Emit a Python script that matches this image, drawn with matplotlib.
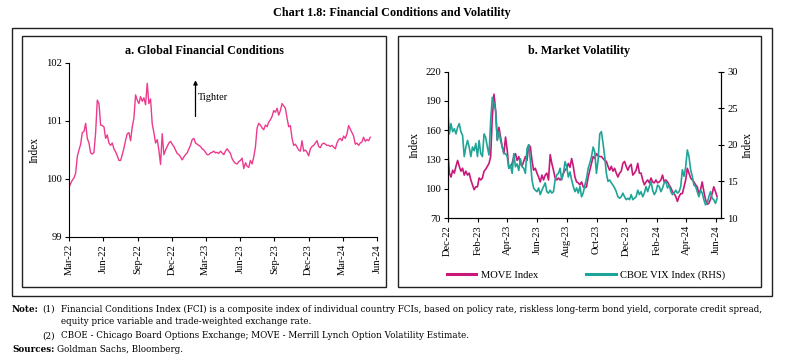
import matplotlib
matplotlib.use("Agg")
import matplotlib.pyplot as plt
import matplotlib.dates as mdates
from matplotlib.patches import Rectangle
import numpy as np
import pandas as pd

plt.rcParams['font.family'] = ['Liberation Serif', 'DejaVu Serif']

# ---- data: panel a (Global FCI), roughly every 4-5 days, Mar-22 to mid-May-24
fci = [99.86, 99.92, 99.98, 100.02, 100.10, 100.39, 100.50, 100.60, 100.80, 100.82,
       100.96, 100.70, 100.62, 100.45, 100.43, 100.46, 100.80, 101.36, 101.30, 100.93,
       100.92, 100.90, 100.70, 100.76, 100.62, 100.58, 100.62, 100.52, 100.47, 100.40,
       100.32, 100.32, 100.42, 100.53, 100.67, 100.78, 100.80, 100.66, 100.90, 101.05,
       101.45, 101.36, 101.30, 101.42, 101.34, 101.40, 101.28, 101.65, 101.30, 101.38,
       100.95, 100.80, 100.62, 100.68, 100.50, 100.25, 100.78, 100.42, 100.50, 100.56,
       100.62, 100.65, 100.60, 100.56, 100.50, 100.44, 100.42, 100.38, 100.33, 100.38,
       100.42, 100.45, 100.52, 100.58, 100.68, 100.70, 100.62, 100.60, 100.58, 100.56,
       100.52, 100.50, 100.46, 100.42, 100.42, 100.45, 100.46, 100.48, 100.45, 100.46,
       100.44, 100.48, 100.45, 100.42, 100.48, 100.52, 100.48, 100.44, 100.35, 100.30,
       100.27, 100.26, 100.30, 100.32, 100.36, 100.18, 100.28, 100.22, 100.20, 100.32,
       100.26, 100.38, 100.55, 100.88, 100.96, 100.93, 100.88, 100.85, 100.93, 100.90,
       100.98, 101.02, 101.08, 101.18, 101.15, 101.22, 101.10, 101.18, 101.30, 101.26,
       101.22, 101.05, 100.90, 100.92, 100.70, 100.58, 100.60, 100.55, 100.50, 100.48,
       100.66, 100.48, 100.50, 100.46, 100.40, 100.52, 100.56, 100.58, 100.62, 100.66,
       100.56, 100.54, 100.60, 100.62, 100.60, 100.58, 100.58, 100.56, 100.58, 100.55,
       100.52, 100.62, 100.68, 100.70, 100.66, 100.74, 100.70, 100.78, 100.92, 100.86,
       100.80, 100.74, 100.60, 100.62, 100.58, 100.62, 100.64, 100.72, 100.65, 100.68,
       100.66, 100.72]
fci_dates = pd.date_range('2022-03-01', '2024-05-14', periods=len(fci))

# ---- data: panel b (MOVE and VIX), roughly every 3-4 days, Dec-22 to Jun-24
move = [141, 116, 112, 119, 116, 123, 129, 123, 118, 121, 114, 118, 114, 116, 109,
        104, 99, 102, 102, 111, 109, 111, 118, 120, 123, 126, 133, 174, 197, 180,
        150, 163, 153, 143, 136, 153, 140, 121, 123, 126, 133, 136, 129, 133, 126,
        123, 128, 133, 129, 145, 143, 129, 119, 121, 116, 112, 107, 114, 109, 114,
        116, 109, 135, 126, 119, 111, 109, 111, 109, 111, 116, 119, 121, 126, 122,
        131, 123, 112, 107, 106, 104, 107, 102, 101, 102, 112, 119, 126, 133, 131,
        136, 134, 133, 133, 131, 129, 128, 123, 119, 123, 118, 121, 116, 112, 116,
        118, 126, 128, 123, 119, 123, 125, 114, 116, 119, 126, 116, 116, 109, 104,
        107, 109, 106, 111, 107, 106, 109, 106, 107, 109, 114, 107, 109, 107, 104,
        101, 97, 95, 92, 87, 92, 95, 95, 102, 109, 121, 116, 111, 109, 107, 104,
        102, 95, 99, 107, 97, 89, 84, 85, 89, 95, 102, 97, 92]
vix = [24.9, 21.5, 22.9, 21.8, 22.2, 21.5, 22.4, 22.9, 21.8, 21.3, 18.4, 19.7, 20.6,
       19.7, 18.4, 19.7, 19.2, 20.2, 18.4, 20.6, 18.8, 18.4, 21.5, 21.0, 19.7, 18.6,
       23.3, 26.5, 25.6, 24.7, 20.6, 21.8, 20.6, 19.7, 18.8, 18.8, 18.4, 16.8, 17.2,
       16.1, 18.8, 17.0, 17.4, 16.5, 18.1, 17.0, 16.8, 16.1, 19.5, 20.0, 17.9, 15.2,
       14.1, 13.8, 13.6, 14.1, 13.2, 13.8, 14.3, 14.8, 13.6, 13.4, 13.8, 13.4, 13.6,
       15.2, 15.9, 16.1, 16.8, 15.2, 16.1, 17.7, 17.0, 15.6, 16.3, 15.2, 14.3, 13.6,
       14.1, 13.4, 14.3, 12.9, 13.4, 14.5, 15.4, 16.8, 17.5, 18.4, 19.7, 19.0, 16.1,
       17.9, 21.5, 21.8, 20.2, 18.4, 16.1, 15.0, 15.2, 14.8, 14.5, 14.1, 13.6, 12.9,
       12.7, 12.9, 13.4, 12.9, 12.5, 12.7, 12.5, 13.2, 12.5, 12.7, 12.9, 13.8, 13.2,
       13.6, 12.9, 13.4, 14.3, 13.6, 14.3, 15.0, 13.8, 13.2, 13.6, 14.5, 14.3, 13.6,
       14.1, 14.8, 15.0, 14.1, 14.5, 13.6, 13.2, 13.4, 13.8, 13.4, 13.6, 14.3, 16.6,
       15.7, 17.0, 19.3, 18.4, 16.6, 15.7, 14.5, 14.3, 13.6, 12.9, 13.8, 13.4, 12.5,
       11.8, 12.0, 12.9, 13.6, 12.7, 12.5, 12.0, 12.7]
move_dates = pd.date_range('2022-12-01', '2024-06-03', periods=len(move))
vix_dates = pd.date_range('2022-12-01', '2024-06-03', periods=len(vix))

pink = '#EC3A8E'
magenta = '#C8197A'
teal = '#1FA597'

W, H = 785, 362
fig = plt.figure(figsize=(W / 100, H / 100), dpi=100)


def px_rect(x0, y0, x1, y1, lw=1.0):
    # frame given in pixel coords (top-left origin)
    fig.patches.append(Rectangle((x0 / W, 1 - y1 / H), (x1 - x0) / W, (y1 - y0) / H,
                                 transform=fig.transFigure, fill=False,
                                 edgecolor='#222222', linewidth=lw))


px_rect(12, 28, 772, 296)
px_rect(22, 36, 386, 287)
px_rect(398, 36, 761, 287)

fig.text(392 / W, 1 - 13 / H, 'Chart 1.8: Financial Conditions and Volatility',
         ha='center', va='center', fontsize=8.7, fontweight='bold')

tfs = 7.6

# ---------------- panel a
ax1 = fig.add_axes([69 / W, 1 - 237 / H, 308 / W, 174 / H])
ax1.plot(fci_dates, fci, color=pink, lw=1.0)
ax1.set_ylim(99, 102)
ax1.set_yticks([99, 100, 101, 102])
ax1.set_xlim(pd.Timestamp('2022-03-01'), pd.Timestamp('2024-06-01'))
ax1.xaxis.set_major_locator(mdates.MonthLocator(bymonth=[3, 6, 9, 12]))
ax1.xaxis.set_major_formatter(mdates.DateFormatter('%b-%y'))
ax1.set_ylabel('Index', fontsize=8.3, labelpad=4)
for s in ['top', 'right']:
    ax1.spines[s].set_visible(False)
ax1.tick_params(axis='x', labelrotation=90, labelsize=tfs, length=3, pad=2)
ax1.tick_params(axis='y', labelsize=tfs, length=3, pad=2)
fig.text(204 / W, 1 - 51 / H, 'a. Global Financial Conditions',
         ha='center', va='center', fontsize=8.7, fontweight='bold')
ax1.annotate('', xy=(pd.Timestamp('2023-02-02'), 101.75),
             xytext=(pd.Timestamp('2023-02-02'), 101.03),
             arrowprops=dict(arrowstyle='-|>', color='black', lw=0.9,
                             mutation_scale=6))
ax1.text(pd.Timestamp('2023-02-08'), 101.4, 'Tighter', fontsize=7.5, va='center')

# ---------------- panel b
ax2 = fig.add_axes([447.7 / W, 1 - 218 / H, 273.3 / W, 146.3 / H])
ax3 = ax2.twinx()
l1, = ax2.plot(move_dates, move, color=magenta, lw=1.2, label='MOVE Index')
l2, = ax3.plot(vix_dates, vix, color=teal, lw=1.2, label='CBOE VIX Index (RHS)')
ax2.set_ylim(70, 220)
ax2.set_yticks([70, 100, 130, 160, 190, 220])
ax3.set_ylim(10, 30)
ax3.set_yticks([10, 15, 20, 25, 30])
ax2.set_xlim(pd.Timestamp('2022-12-01'), pd.Timestamp('2024-06-11'))
ax2.xaxis.set_major_locator(mdates.MonthLocator(bymonth=[2, 4, 6, 8, 10, 12]))
ax2.xaxis.set_major_formatter(mdates.DateFormatter('%b-%y'))
ax2.set_ylabel('Index', fontsize=8.3, labelpad=3)
ax3.set_ylabel('Index', fontsize=8.3, labelpad=3)
for a in (ax2, ax3):
    a.spines['top'].set_visible(False)
ax2.tick_params(axis='x', labelrotation=90, labelsize=tfs, length=3, pad=2)
ax2.tick_params(axis='y', labelsize=tfs, length=3, pad=2)
ax3.tick_params(axis='y', labelsize=tfs, length=5, pad=2, direction='inout')
fig.text(579 / W, 1 - 51 / H, 'b. Market Volatility',
         ha='center', va='center', fontsize=8.7, fontweight='bold')
fig.legend([l1, l2], ['MOVE Index', 'CBOE VIX Index (RHS)'], loc='center',
           bbox_to_anchor=(586 / W, 1 - 275 / H), ncol=2, frameon=False,
           fontsize=7.6, handlelength=2.8, columnspacing=4.6, handletextpad=0.4)
for ln in fig.legends[0].get_lines():
    ln.set_linewidth(2.2)

# ---------------- notes
nfs = 6.35
nfam = ['DejaVu Serif']
fig.text(12 / W, 1 - 309 / H, 'Note:', fontsize=nfs, fontweight='bold', va='center',
         family=nfam)
fig.text(42 / W, 1 - 309 / H, '(1)', fontsize=nfs, va='center', family=nfam)
fig.text(61 / W, 1 - 309 / H,
         'Financial Conditions Index (FCI) is a composite index of individual country FCIs, '
         'based on policy rate, riskless long-term bond yield, corporate credit spread,',
         fontsize=nfs, va='center', family=nfam)
fig.text(61 / W, 1 - 322 / H, 'equity price variable and trade-weighted exchange rate.',
         fontsize=nfs, va='center', family=nfam)
fig.text(42 / W, 1 - 336 / H, '(2)', fontsize=nfs, va='center', family=nfam)
fig.text(61 / W, 1 - 336 / H,
         'CBOE - Chicago Board Options Exchange; MOVE - Merrill Lynch Option Volatility Estimate.',
         fontsize=nfs, va='center', family=nfam)
fig.text(12 / W, 1 - 349 / H, 'Sources:', fontsize=nfs, fontweight='bold', va='center',
         family=nfam)
fig.text(57 / W, 1 - 349 / H, 'Goldman Sachs, Bloomberg.', fontsize=nfs, va='center',
         family=nfam)

fig.savefig('out.png', dpi=100)
